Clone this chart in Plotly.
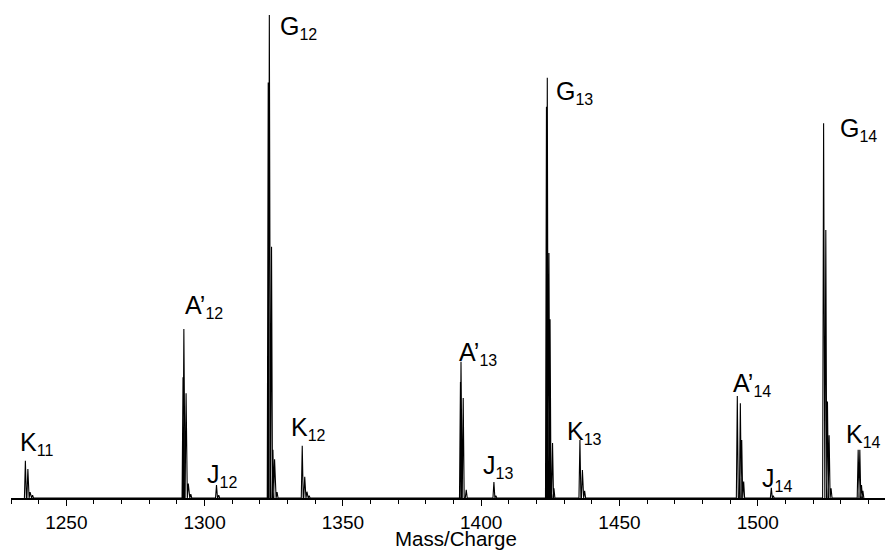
import plotly.graph_objects as go

# Centroid m/z values and relative intensities (G12 = 100) for each ion cluster
k11_mz = [1235.2, 1236.1, 1236.9, 1237.8]
k11_int = [7.7, 6.0, 1.2, 0.6]

a12_mz = [1292.2, 1292.5, 1293.3, 1294.1, 1295.0]
a12_int = [25.0, 35.0, 21.7, 3.0, 0.8]

j12_mz = [1304.3, 1305.1]
j12_int = [2.7, 0.6]

g12_mz = [1323.0, 1323.4, 1324.2, 1324.7, 1325.3, 1326.2]
g12_int = [86.0, 100.0, 52.0, 10.0, 8.0, 1.2]

k12_mz = [1335.3, 1336.2, 1337.0, 1337.8]
k12_int = [10.8, 4.4, 1.3, 0.5]

a13_mz = [1392.5, 1392.7, 1393.5, 1394.6]
a13_int = [24.0, 28.2, 20.7, 1.7]

j13_mz = [1404.6, 1405.3]
j13_int = [3.3, 0.5]

g13_mz = [1423.6, 1423.9, 1424.5, 1424.9, 1425.8, 1426.3]
g13_int = [81.0, 87.0, 50.7, 37.0, 11.4, 2.0]

k13_mz = [1435.7, 1436.6, 1437.4]
k13_int = [12.0, 5.8, 1.5]

a14_mz = [1492.6, 1493.7, 1494.2, 1494.9]
a14_int = [21.1, 19.6, 12.0, 3.4]

j14_mz = [1504.9, 1505.6]
j14_int = [2.1, 0.5]

g14_mz = [1523.8, 1524.6, 1525.2, 1525.8, 1526.5]
g14_int = [77.6, 55.5, 20.0, 13.0, 2.0]

k14_mz = [1536.3, 1536.9, 1537.5, 1538.0]
k14_int = [10.0, 10.0, 2.7, 1.5]

clusters = [
    (k11_mz, k11_int), (a12_mz, a12_int), (j12_mz, j12_int), (g12_mz, g12_int),
    (k12_mz, k12_int), (a13_mz, a13_int), (j13_mz, j13_int), (g13_mz, g13_int),
    (k13_mz, k13_int), (a14_mz, a14_int), (j14_mz, j14_int), (g14_mz, g14_int),
    (k14_mz, k14_int),
]

# Peak labels: ion letter, subscript, m/z of the label's left edge, intensity level
label_ion = ["K", "A’", "J", "G", "K", "A’", "J", "G", "K", "A’", "J", "G", "K"]
label_sub = ["11", "12", "12", "12", "12", "13", "13", "13", "13", "14", "14", "14", "14"]
label_mz = [1232.8, 1292.4, 1300.5, 1327.0, 1330.7, 1391.6, 1400.3, 1426.6,
            1430.6, 1490.6, 1501.3, 1529.4, 1531.6]
label_int = [11.3, 39.6, 4.6, 97.5, 14.3, 30.0, 6.5, 84.0, 13.6, 23.4, 3.9, 76.3, 13.0]

# Each centroid is drawn as a narrow profile peak
half_width = 0.35
xs, ys = [], []
for mz, inten in clusters:
    for m, h in sorted(zip(mz, inten)):
        xs += [m - half_width, m, m + half_width]
        ys += [0, h, 0]

fig = go.Figure()
fig.add_trace(go.Scatter(
    x=xs, y=ys, mode="lines",
    line=dict(color="black", width=1.1),
    hoverinfo="skip", showlegend=False,
))

for ion, sub, xm, yi in zip(label_ion, label_sub, label_mz, label_int):
    fig.add_annotation(
        x=xm, y=yi, xref="x", yref="y",
        text=f"{ion}<sub><span style='font-size:16px'>{sub}</span></sub>",
        showarrow=False, xanchor="left", yanchor="middle", borderpad=0,
        font=dict(family="Liberation Sans, Arial, sans-serif", size=25, color="black"),
    )

# Axis title
fig.add_annotation(
    x=0.509, y=0, xref="paper", yref="paper", yshift=-40,
    text="Mass/Charge", showarrow=False, xanchor="center", yanchor="middle",
    font=dict(family="Liberation Sans, Arial, sans-serif", size=20.5, color="black"),
)

fig.update_layout(
    width=885, height=550,
    margin=dict(l=11, r=0, t=0, b=52),
    paper_bgcolor="white", plot_bgcolor="white",
    font=dict(family="Liberation Sans, Arial, sans-serif", color="black"),
    showlegend=False,
)
fig.update_xaxes(
    range=[1230, 1546], showgrid=False, zeroline=False,
    showline=True, linecolor="black", linewidth=1.5,
    ticks="outside", ticklen=6, tickwidth=1.2, tickcolor="black",
    tick0=1250, dtick=50,
    minor=dict(ticks="outside", ticklen=4, tickwidth=1.2, tickcolor="black", dtick=10, tick0=1230),
    tickfont=dict(size=19, color="black"),
)
fig.update_yaxes(range=[0, 103.1], visible=False)

fig.write_html("out.html")
